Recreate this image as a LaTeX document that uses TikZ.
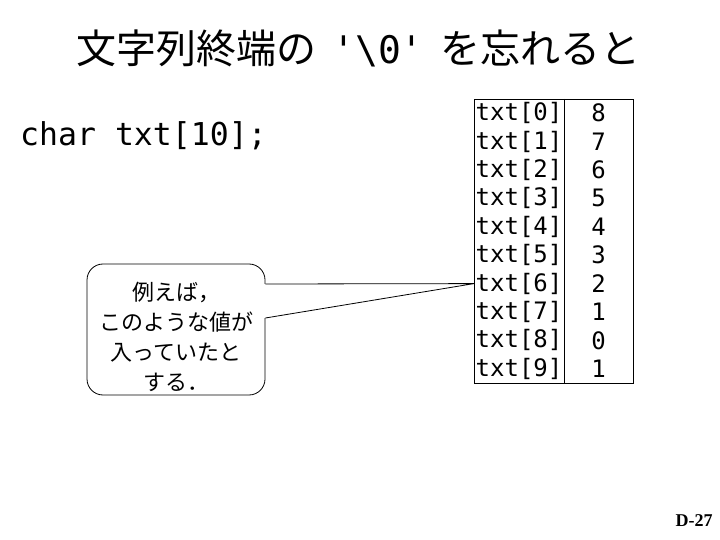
\documentclass[tikz,border=0pt]{standalone}
\usepackage{fontspec}
\setmainfont{Noto Sans CJK JP}
\setmonofont{DejaVu Sans Mono}
\newfontfamily\jpf{Noto Sans CJK JP}
\newfontfamily\timesf{Liberation Serif}
\tikzset{
  titlejp/.style={font=\jpf\fontsize{40}{48}\selectfont, inner sep=0pt, anchor=base},
  titlett/.style={font=\ttfamily\fontsize{38}{46}\selectfont, inner sep=0pt, anchor=base},
  decl/.style={font=\ttfamily\fontsize{31.5}{38}\selectfont, inner sep=0pt, anchor=base west},
  cellname/.style={font=\ttfamily\fontsize{24}{28}\selectfont, inner sep=0pt, anchor=west},
  cellval/.style={font=\ttfamily\fontsize{24}{28}\selectfont, inner sep=0pt, anchor=center},
  line/.style={draw=black, line width=0.8pt},
  calloutbox/.style={line, rounded corners=16pt, inner sep=0pt, minimum width=178pt, minimum height=131pt},
  callouttext/.style={font=\jpf\fontsize{22}{30}\selectfont, align=center, inner sep=0pt},
  pagenum/.style={font=\timesf\bfseries\fontsize{18}{20}\selectfont, inner sep=0pt}
}
\begin{document}
\begin{tikzpicture}[x=1pt,y=-1pt]
\useasboundingbox (0,0) rectangle (720,540);
\fill[white] (0,0) rectangle (720,540);
% title
\node[titlejp, anchor=base west] (t1) at (76,64) {文字列終端の};
\node[titlett] (t2) at (378,64) {'\textbackslash0'};
\node[titlejp, anchor=base east] (t3) at (641,64) {を忘れると};
% declaration
\node[decl] (decl) at (20,146) {char txt[10];};
% table
\node[line, anchor=north west, minimum width=159pt, minimum height=284pt, inner sep=0pt] (table) at (474,99) {};
\coordinate (divtop) at (564,99);
\coordinate (divbot) at (564,383);
\draw[line] (divtop) -- (divbot);
\foreach \i/\v in {0/8,1/7,2/6,3/5,4/4,5/3,6/2,7/1,8/0,9/1}{
  \node[cellname] (r\i) at (475.5,{99+28.4*(\i+0.5)}) {txt[\i]};
  \node[cellval] (v\i) at (598.5,{99+28.4*(\i+0.5)}) {\v};
}
% callout
\node[calloutbox] (callout) at (176,329.5) {};
\coordinate (tip) at (table.west |- r6);
\coordinate (pu) at (callout.east |- 0,284);
\coordinate (pl) at (callout.east |- 0,318);
\fill[white] ([xshift=-1.5pt]pu) rectangle ([xshift=1.5pt]pl);
\draw[line, line join=miter] (pu) -- (tip) -- (pl);
\node[callouttext] (ctext) at (176,337) {例えば，\\このような値が\\入っていたと\\する．};
% page number
\node[pagenum] (pn) at (694,521) {D-27};
\end{tikzpicture}
\end{document}
